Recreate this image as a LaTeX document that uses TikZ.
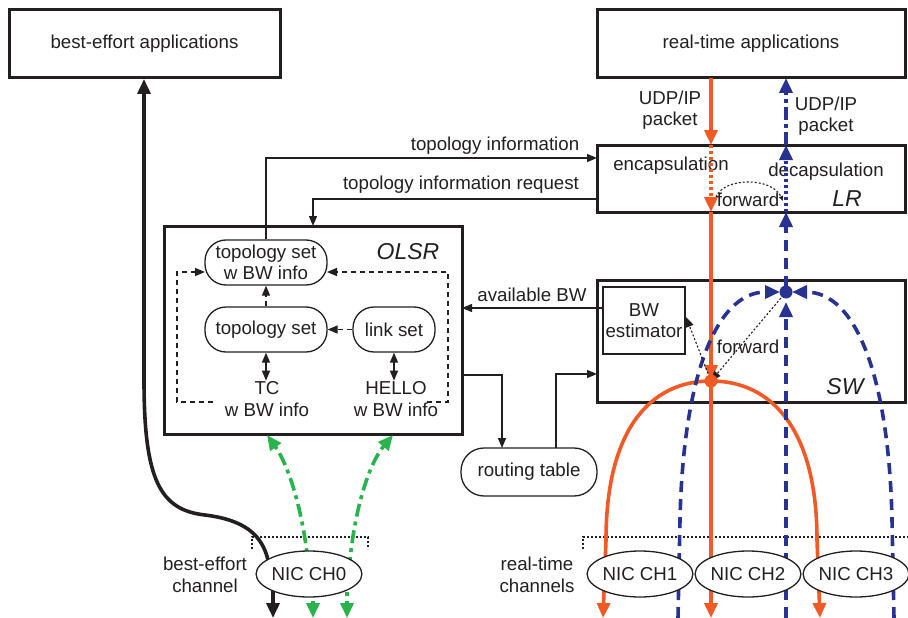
\documentclass[tikz,border=0pt]{standalone}
\usepackage{fontspec}
\setmainfont{Liberation Sans}
\usetikzlibrary{arrows.meta,shapes.geometric}
\definecolor{ora}{RGB}{241,90,36}
\definecolor{blu}{RGB}{40,50,145}
\definecolor{grn}{RGB}{40,180,75}
\definecolor{ink}{RGB}{35,31,32}
\begin{document}
\begin{tikzpicture}[x=1pt,y=-1pt,
  every node/.style={font=\fontsize{18.7pt}{21.5pt}\selectfont, text=ink},
  bigbox/.style={draw=ink, line width=3pt},
  thinline/.style={draw=ink, line width=1.3pt},
  tarrow/.style={-{Triangle[length=10pt,width=8pt]}},
  darrow/.style={{Triangle[length=10pt,width=8pt]}-{Triangle[length=10pt,width=8pt]}},
  barrow/.style={-{Triangle[length=15pt,width=13pt]}},
  rbox/.style={draw=ink, line width=1.3pt, rounded corners=21pt, minimum height=45pt, inner sep=0pt, align=center},
  nic/.style={ellipse, draw=ink, fill=white, line width=1.3pt, minimum width=100pt, minimum height=46pt, inner sep=0pt},
  lbl/.style={align=center, inner sep=0pt},
  big/.style={font=\fontsize{23pt}{26pt}\selectfont\itshape, inner sep=0pt},
  loopdash/.style={draw=ink, line width=1.3pt, dash pattern=on 5pt off 4pt},
  dotline/.style={draw=ink, line width=1.1pt, dash pattern=on 2pt off 2pt},
  oraline/.style={draw=ora, line width=3.6pt},
  bluline/.style={draw=blu, line width=3.6pt},
  grnline/.style={draw=grn, line width=3.6pt, dash pattern=on 13pt off 5pt on 4pt off 5pt},
  bdash/.style={dash pattern=on 11pt off 7pt},
  bdashdot/.style={dash pattern=on 13pt off 4pt on 4pt off 4pt},
  cdot/.style={dash pattern=on 3pt off 3pt}
]
\useasboundingbox (0,0) rectangle (908,618);

% ---------- main boxes ----------
\node[bigbox, minimum width=271pt, minimum height=68pt] (bea) at (144.5,44) {best-effort applications};
\node[bigbox, minimum width=308pt, minimum height=68pt] (rta) at (751,44) {real-time applications};
\node[bigbox, minimum width=308pt, minimum height=67pt] (lr) at (751,178.5) {};
\node[bigbox, minimum width=308pt, minimum height=122pt] (sw) at (751,341) {};
\node[bigbox, minimum width=298pt, minimum height=208pt] (olsr) at (313,330) {};
\node[thinline, minimum width=82pt, minimum height=67pt, align=center, inner sep=0pt] (bw) at (644,320.5) {BW\\estimator};

% ---------- OLSR inside ----------
\node[rbox, minimum width=122pt] (tsbw) at (266,262.5) {topology set\\w BW info};
\node[rbox, minimum width=122pt] (ts) at (266,329.5) {topology set};
\node[rbox, minimum width=82pt] (ls) at (394,329.5) {link set};
\node[lbl] (tc) at (267,399) {TC\\w BW info};
\node[lbl] (hello) at (396,399) {HELLO\\w BW info};
\node[big] (olsrlbl) at (408,252) {OLSR};
\node[big] (lrlbl) at (847,199) {LR};
\node[big] (swlbl) at (845,387) {SW};

\node[rbox, minimum width=136pt, minimum height=48pt, rounded corners=23pt] (rt) at (529,472) {routing table};

% loop
\coordinate (l1) at (213,402);
\coordinate (l2) at (177,402);
\coordinate (l3) at (177,272);
\coordinate (l4) at (205,272);
\coordinate (r1) at (427,402);
\coordinate (r2) at (448,402);
\coordinate (r3) at (448,272);
\coordinate (r4) at (327,272);
\draw[loopdash, tarrow] (l1) -- (l2) -- (l3) -- (l4);
\draw[loopdash, tarrow] (r1) -- (r2) -- (r3) -- (r4);
\draw[loopdash, tarrow] (ts.north) -- (tsbw.south);
\draw[loopdash, tarrow] (ls.west) -- (ts.east);
\draw[thinline, darrow] (ts.south) -- ++(0,28);
\draw[thinline, darrow] (ls.south) -- ++(0,28);

% ---------- thin connectors ----------
\coordinate (lrin) at (597,158);
\coordinate (lrout) at (597,199);
\coordinate (oin) at (313,226);
\coordinate (bwout) at (603,308);
\coordinate (olsrbw) at (462,308);
\coordinate (olsrout) at (462,375);
\coordinate (rtin) at (502,448);
\coordinate (rtout) at (556,448);
\coordinate (swin) at (597,374);
\draw[thinline, tarrow] (tsbw.north) |- (lrin);
\node[lbl] (tilbl) at (495,146) {topology information};
\draw[thinline, tarrow] (lrout) -| (oin);
\node[lbl] (tirlbl) at (461,185) {topology information request};
\draw[thinline, tarrow] (bwout) -- (olsrbw);
\node[lbl] (abwlbl) at (532,295) {available BW};
\draw[thinline, tarrow] (olsrout) -| (rtin);
\draw[thinline, tarrow] (rtout) |- (swin);

% ---------- labels LR ----------
\node[lbl] (udp1) at (670,110) {UDP/IP\\packet};
\node[lbl] (udp2) at (826,116) {UDP/IP\\packet};
\node[lbl] (encap) at (671,166) {encapsulation};
\node[lbl] (decap) at (826,172) {decapsulation};
\node[lbl] (fwd1) at (748,200) {forward};
\node[lbl] (fwd2) at (748,347) {forward};

% ---------- dotted brackets ----------
\coordinate (b1) at (252,549);
\coordinate (b2) at (252,537);
\coordinate (b3) at (368,537);
\coordinate (b4) at (368,549);
\draw[dotline] (b1) -- (b2) -- (b3) -- (b4);
\coordinate (c1) at (583,549);
\coordinate (c2) at (583,537);
\coordinate (c3) at (908,537);
\draw[dotline] (c1) -- (c2) -- (c3);

% ---------- coordinates of flows ----------
\coordinate (o1) at (711,78);
\coordinate (o2) at (711,145);
\coordinate (o3) at (711,212);
\coordinate (onode) at (711,381);
\coordinate (obot) at (711,618);
\coordinate (olbot) at (603,618);
\coordinate (orbot) at (820,618);
\coordinate (u1) at (786,78);
\coordinate (u2) at (786,145);
\coordinate (u3) at (786,212);
\coordinate (bnode) at (786,292);
\coordinate (ubot) at (786,618);
\coordinate (ulbot) at (678,618);
\coordinate (urbot) at (894,618);
\coordinate (bwin) at (686,317);

% orange
\draw[oraline, barrow] (o1) -- (o2);
\draw[oraline, cdot, barrow] (o2) -- (o3);
\draw[oraline, barrow, shorten >=1pt] (o3) -- (onode);
\draw[oraline, barrow] (onode) -- (obot);
\draw[oraline, barrow] (onode) .. controls (650,381) and (606,430) .. (606,540) -- (olbot);
\draw[oraline, barrow] (onode) .. controls (772,381) and (817,430) .. (817,540) -- (orbot);

% blue
\draw[bluline, bdashdot, barrow] (u2) -- (u1);
\draw[bluline, cdot, barrow] (u3) -- (u2);
\draw[bluline, bdash, barrow, shorten <=5pt] (bnode) -- (u3);
\draw[bluline, bdash, barrow, shorten >=10pt] (ubot) -- (bnode);
\draw[bluline, bdash, barrow, shorten >=6pt] (ulbot) -- (680,520) .. controls (683,380) and (715,292) .. (bnode);
\draw[bluline, bdash, barrow, shorten >=6pt] (urbot) -- (892,520) .. controls (889,380) and (857,292) .. (bnode);

% dotted forward arrows
\draw[dotline, tarrow, shorten <=4pt] (bnode) -- (onode);
\draw[dotline, tarrow] (onode) -- (bwin);
\coordinate (fa1) at (716,197);
\coordinate (fa2) at (783,201);
\draw[dotline, -{Triangle[length=5pt,width=4pt]}] (fa1) .. controls (724,177) and (772,177) .. (fa2);

% nodes dots
\fill[ora] (onode) circle (6.5pt);
\fill[blu] (bnode) circle (6.5pt);

% best-effort side
\coordinate (k0) at (268,560);
\coordinate (k1) at (144,79);
\draw[draw=ink, line width=3.6pt, barrow] (k0) .. controls (262,535) and (245,520) .. (205,515)
   .. controls (160,510) and (144,480) .. (144,380) -- (k1);
\coordinate (k2) at (273,574);
\coordinate (k3) at (273,618);
\draw[draw=ink, line width=3.6pt, barrow] (k2) -- (k3);

% green
\coordinate (g1) at (309,570);
\coordinate (g2) at (267,435);
\coordinate (g3) at (349,570);
\coordinate (g4) at (393,435);
\draw[grnline, barrow] (g1) .. controls (302,500) and (285,460) .. (g2);
\draw[grnline, barrow] (g3) .. controls (355,500) and (372,460) .. (g4);
\coordinate (g5) at (313,574);
\coordinate (g6) at (313,618);
\coordinate (g7) at (347,574);
\coordinate (g8) at (347,618);
\draw[grnline, barrow] (g5) -- (g6);
\draw[grnline, barrow] (g7) -- (g8);

% NICs
\node[nic] (nic0) at (309,574) {NIC CH0};
\node[nic] (nic1) at (640,574) {NIC CH1};
\node[nic] (nic2) at (748,574) {NIC CH2};
\node[nic] (nic3) at (856,574) {NIC CH3};
\node[lbl] (bec) at (205,575) {best-effort\\channel};
\node[lbl] (rtc) at (537,575) {real-time\\channels};
\end{tikzpicture}
\end{document}
